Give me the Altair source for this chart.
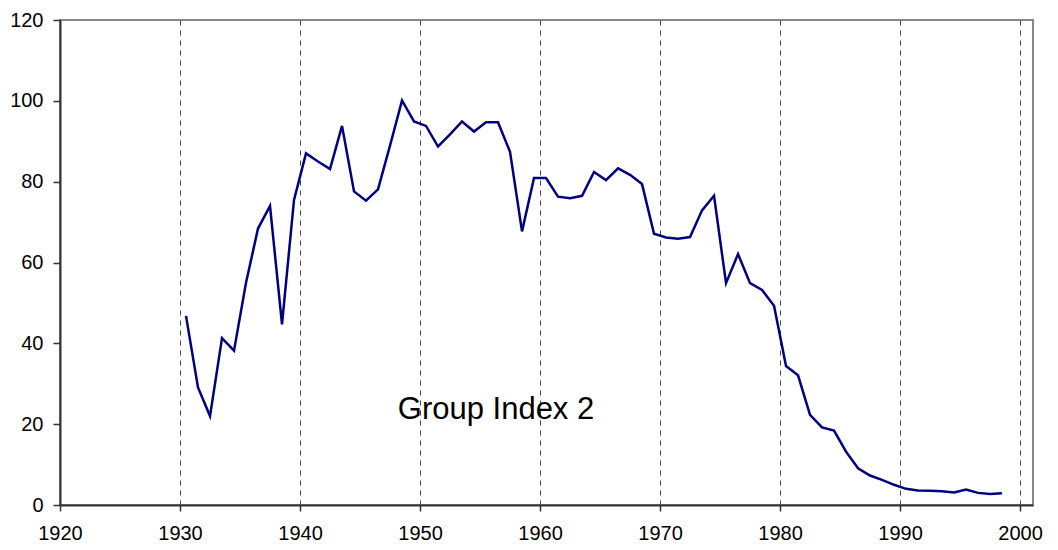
import altair as alt
import pandas as pd

years = list(range(1930, 1999))
values = [46.8, 29.1, 22.0, 41.3, 38.2, 55.0, 68.4, 74.0, 44.7, 75.5,
          87.0, 85.0, 83.1, 93.8, 77.6, 75.3, 78.1, 88.9, 100.1, 94.9,
          93.8, 88.7, 91.7, 94.9, 92.4, 94.7, 94.7, 87.4, 67.7, 80.9,
          80.9, 76.3, 75.9, 76.5, 82.4, 80.4, 83.3, 81.7, 79.4, 67.1,
          66.2, 65.9, 66.3, 72.9, 76.5, 54.9, 62.1, 54.9, 53.2, 49.3,
          34.4, 32.1, 22.3, 19.2, 18.4, 13.2, 9.1, 7.3, 6.2, 5.0,
          4.0, 3.6, 3.5, 3.4, 3.1, 3.8, 3.0, 2.7, 2.9]
x_ticks = [1920, 1930, 1940, 1950, 1960, 1970, 1980, 1990, 2000]
y_ticks = [0, 20, 40, 60, 80, 100, 120]
label_text = "Group Index 2"

df = pd.DataFrame({"year": [y + 0.5 for y in years], "value": values})

W, H = 973, 485

line = alt.Chart(df).mark_line(color="#000080", strokeWidth=2.5).encode(
    x=alt.X("year:Q", scale=alt.Scale(domain=[1920, 2001.08], nice=False, zero=False),
            axis=alt.Axis(values=x_ticks, format="d", title=None, grid=True,
                          gridDash=[5, 5], gridColor="#444444", gridWidth=1,
                          domainColor="#333333", domainWidth=2,
                          tickColor="#333333", tickSize=6, tickWidth=1.5,
                          labelFont="Liberation Sans", labelFontSize=20,
                          labelFlush=False, labelOverlap=False,
                          labelColor="#000000", labelPadding=12)),
    y=alt.Y("value:Q", scale=alt.Scale(domain=[0, 120], nice=False),
            axis=alt.Axis(values=y_ticks, title=None, grid=False,
                          domainColor="#333333", domainWidth=2,
                          tickColor="#333333", tickSize=7, tickWidth=1.5,
                          labelFont="Liberation Sans", labelFontSize=20,
                          labelFlush=False, labelOverlap=False,
                          labelColor="#000000", labelPadding=10)),
)

text = alt.Chart(pd.DataFrame({"t": [label_text]})).mark_text(
    font="Liberation Sans", fontSize=31, color="#000000", align="center", baseline="middle"
).encode(x=alt.value(436), y=alt.value(390), text="t:N")

chart = alt.layer(line, text).properties(
    width=W, height=H,
    padding={"left": 52, "top": 12, "right": 10, "bottom": 42},
    autosize=alt.AutoSizeParams(type="none"),
).configure_view(stroke="#888888", strokeWidth=2)

chart.save("out.html", embed_options={"renderer": "svg", "actions": False})
